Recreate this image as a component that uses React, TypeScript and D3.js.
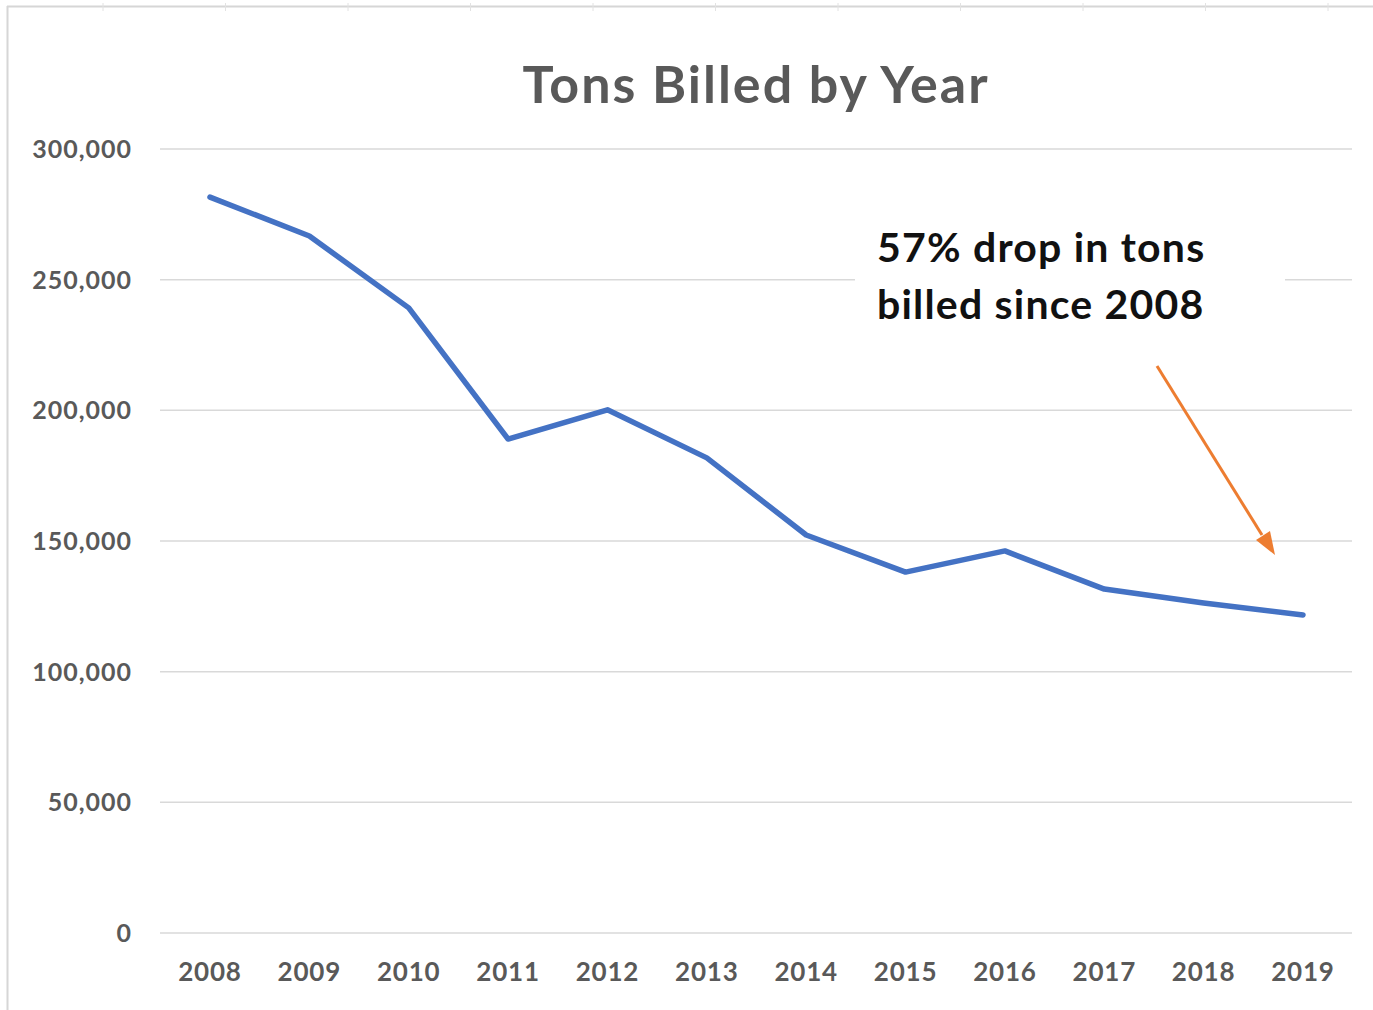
import React from "react";
import * as d3 from "d3";

const years = ["2008", "2009", "2010", "2011", "2012", "2013", "2014", "2015", "2016", "2017", "2018", "2019"];
const tonsBilled = [281600, 266700, 239200, 189000, 200200, 181800, 152300, 138100, 146200, 131600, 126300, 121700];
const yTicks = [0, 50000, 100000, 150000, 200000, 250000, 300000];
const titleText = "Tons Billed by Year";
const noteLines = ["57% drop in tons", "billed since 2008"];

const W = 1373;
const H = 1010;
const FONT = "Lato, 'Open Sans', sans-serif";

export default function App() {
  const x = d3.scalePoint<string>().domain(years).range([210, 1303]);
  const y = d3.scaleLinear().domain([0, 300000]).range([933, 149]);
  const line = d3
    .line<number>()
    .x((_, i) => x(years[i]) as number)
    .y((d) => y(d));
  const fmt = d3.format(",");
  const colMarks = d3.range(103, W, 122.5);

  return (
    <svg width={W} height={H} style={{ position: "absolute", left: 0, top: 0, background: "#fff" }}>
      {/* sheet frame */}
      <line x1={7} x2={W} y1={6.5} y2={6.5} stroke="#d6d6d6" strokeWidth={2} />
      <line x1={7.5} x2={7.5} y1={6} y2={H} stroke="#d6d6d6" strokeWidth={2} />
      {colMarks.map((c, i) => (
        <line key={i} x1={c} x2={c} y1={3} y2={11} stroke="#e2e2e2" strokeWidth={1} />
      ))}

      <text x={756} y={103} textAnchor="middle" fontFamily={FONT} fontWeight={700} fontSize={52} letterSpacing={2} fill="#595959">
        {titleText}
      </text>

      {yTicks.map((t) => (
        <g key={t}>
          <line x1={160} x2={1352} y1={y(t)} y2={y(t)} stroke="#d9d9d9" strokeWidth={1.5} />
          <text x={132} y={y(t) + 9} textAnchor="end" fontFamily={FONT} fontWeight={700} fontSize={25} letterSpacing={1} fill="#595959">
            {fmt(t)}
          </text>
        </g>
      ))}

      {years.map((yr) => (
        <text key={yr} x={x(yr)} y={981} textAnchor="middle" fontFamily={FONT} fontWeight={700} fontSize={26} letterSpacing={0.8} fill="#595959">
          {yr}
        </text>
      ))}

      <path d={line(tonsBilled) ?? ""} fill="none" stroke="#4472C4" strokeWidth={5.5} strokeLinejoin="round" strokeLinecap="round" />

      {/* annotation box */}
      <rect x={855} y={218} width={430} height={118} fill="#fff" />
      {noteLines.map((l, i) => (
        <text key={i} x={877} y={262 + i * 57} fontFamily={FONT} fontWeight={700} fontSize={41} letterSpacing={1.2} fill="#111">
          {l}
        </text>
      ))}

      <line x1={1157} y1={366} x2={1262} y2={535} stroke="#ED7D31" strokeWidth={3} />
      <path d="M1275,555 L1256,540 L1270,531 Z" fill="#ED7D31" />
    </svg>
  );
}
